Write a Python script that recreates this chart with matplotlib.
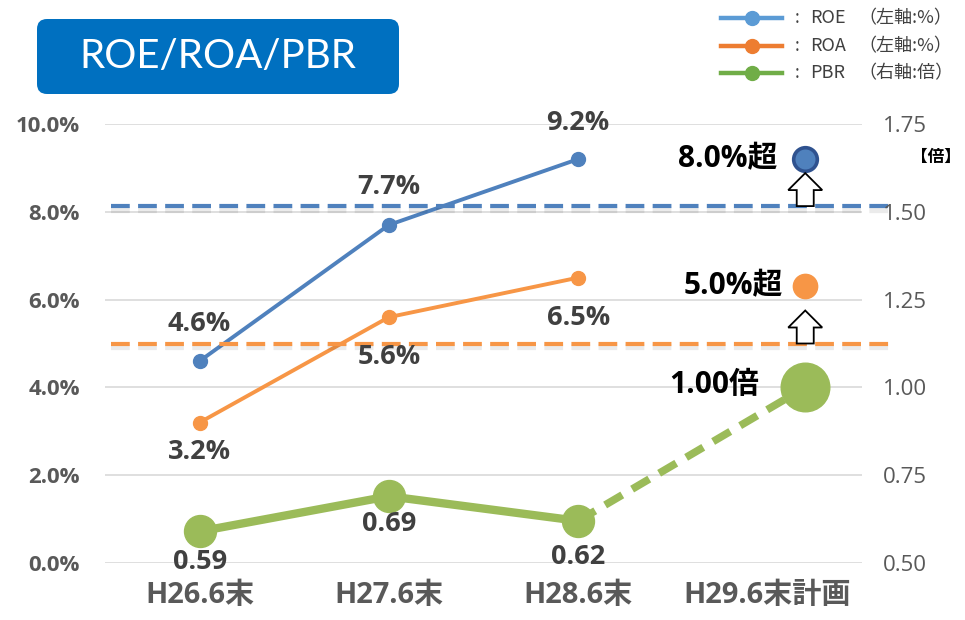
import numpy as np
import matplotlib
matplotlib.use("Agg")
import matplotlib.pyplot as plt
import matplotlib.transforms as mtransforms
import matplotlib.patheffects as pe
from matplotlib.patches import FancyBboxPatch, Polygon
from matplotlib.lines import Line2D

# ---------------- data ----------------
categories = ["H26.6末", "H27.6末", "H28.6末", "H29.6末計画"]
roe = [4.6, 7.7, 9.2]          # %
roa = [3.2, 5.6, 6.5]          # %
pbr = [0.59, 0.69, 0.62]       # 倍
pbr_plan = 1.00
roe_target = 8.13              # dashed target line (left axis)
roa_target = 5.0
roe_plan_marker = 9.2
roa_plan_marker = 6.3
plan_x = 3.2
roe_labels = ["4.6%", "7.7%", "9.2%"]
roa_labels = ["3.2%", "5.6%", "6.5%"]
pbr_labels = ["0.59", "0.69", "0.62"]
plan_labels = ["8.0%超", "5.0%超", "1.00倍"]
left_ticks = [0, 2, 4, 6, 8, 10]
right_ticks = [0.50, 0.75, 1.00, 1.25, 1.50, 1.75]
legend_names = ["ROE", "ROA", "PBR"]
legend_notes = ["（左軸:%）", "（左軸:%）", "（右軸:倍）"]

# ---------------- style ----------------
C_ROE = "#4F81BD"
C_ROA = "#F79646"
C_PBR = "#9BBB59"
C_LEG = ["#5B9BD5", "#ED7D31", "#70AD47"]
C_TXT = "#404040"
C_TICK = "#595959"
NUM = ["Open Sans", "Noto Sans CJK JP", "DejaVu Sans"]
CJK = ["Noto Sans CJK JP", "DejaVu Sans"]

W, H = 965, 620
fig = plt.figure(figsize=(W / 100, H / 100), dpi=100)
fig.patch.set_facecolor("white")

x0, x1, ytop, ybot = 105, 862, 124, 563
ax = fig.add_axes([x0 / W, 1 - ybot / H, (x1 - x0) / W, (ybot - ytop) / H])
ax2 = ax.twinx()

ax.set_xlim(-0.5, 3.5)
ax.set_ylim(0, 10)
ax2.set_ylim(0.5, 1.75)
for a in (ax, ax2):
    for s in a.spines.values():
        s.set_visible(False)
    a.tick_params(length=0)
ax2.patch.set_visible(False)

ax.set_yticks(left_ticks)
ax.set_yticklabels([f"{v:.1f}%" for v in left_ticks], fontfamily=NUM,
                   fontweight="bold", fontsize=16, color=C_TICK)
ax.tick_params(axis="y", pad=18)
ax2.set_yticks(right_ticks)
ax2.set_yticklabels([f"{v:.2f}" for v in right_ticks], fontfamily=NUM,
                    fontsize=16, color=C_TICK)
ax2.tick_params(axis="y", pad=15)
ax.set_xticks(range(len(categories)))
ax.set_xticklabels(categories, fontfamily=NUM, fontweight="bold",
                   fontsize=21, color=C_TICK)
ax.tick_params(axis="x", pad=13)
ax.grid(axis="y", color="#D9D9D9", linewidth=1.2, zorder=0)
ax.set_axisbelow(True)

xs = np.arange(len(roe))

# ROE / ROA lines
ax.plot(xs, roe, color=C_ROE, lw=2.8, marker="o", ms=10, zorder=3)
ax.plot(xs, roa, color=C_ROA, lw=2.8, marker="o", ms=10, zorder=3)

# target dashed lines with soft shadow
for val, col in ((roe_target, C_ROE), (roa_target, C_ROA)):
    ax.plot([-0.47, 3.66], [val, val], color=col, lw=3.0, dashes=(4.5, 2.0),
            clip_on=False, zorder=4,
            path_effects=[pe.SimpleLineShadow(offset=(0, -2.5), shadow_color="black",
                                              alpha=0.08, linewidth=4.5),
                          pe.Normal()])

# plan markers
ax.plot([plan_x], [roe_plan_marker], marker="o", ms=17, mfc=C_ROE, mec="#2F528F",
        mew=2.6, zorder=5, clip_on=False)
ax.plot([plan_x], [roa_plan_marker], marker="o", ms=17.5, mfc=C_ROA, mec=C_ROA,
        zorder=5, clip_on=False)

# up arrows (block arrows) from target lines
arrow_px = np.array([(-8.5, 0), (8.5, 0), (8.5, 16), (17, 16), (0, 33),
                     (-17, 16), (-8.5, 16)]) / 100.0
for val in (roe_target, roa_target):
    tr = fig.dpi_scale_trans + mtransforms.ScaledTranslation(plan_x, val, ax.transData)
    ax.add_patch(Polygon(arrow_px, closed=True, transform=tr, facecolor="white",
                         edgecolor="black", lw=1.3, zorder=6, clip_on=False))

# PBR line on right axis
ax2.plot(xs, pbr, color=C_PBR, lw=6, marker="o", ms=23, zorder=3,
         solid_capstyle="round")
ax2.plot([xs[-1], plan_x], [pbr[-1], pbr_plan], color=C_PBR, lw=5.5,
         dashes=(2.6, 1.5), zorder=2)
ax2.plot([plan_x], [pbr_plan], marker="o", ms=35, color=C_PBR, zorder=4,
         clip_on=False)

# data labels
lab_kw = dict(fontfamily=NUM, fontweight="bold", fontsize=19.5, color=C_TXT,
              ha="center", va="center", textcoords="offset points", zorder=7)
roe_off = [27, 27, 26]
roa_off = [-21, -29, -29]
pbr_off = [-22, -20, -26]
for i in range(len(roe)):
    ax.annotate(roe_labels[i], (xs[i], roe[i]), xytext=(0, roe_off[i]), **lab_kw)
    ax.annotate(roa_labels[i], (xs[i], roa[i]), xytext=(0, roa_off[i]), **lab_kw)
    ax2.annotate(pbr_labels[i], (xs[i], pbr[i]), xytext=(0, pbr_off[i]), **lab_kw)

plan_kw = dict(fontfamily=NUM, fontweight="bold", fontsize=21.5, color="black",
               ha="right", va="center", textcoords="offset points", zorder=7,
               annotation_clip=False)
ax.annotate(plan_labels[0], (plan_x, roe_plan_marker), xytext=(-20, 0), **plan_kw)
ax.annotate(plan_labels[1], (plan_x, roa_plan_marker), xytext=(-16, 0), **plan_kw)
ax2.annotate(plan_labels[2], (plan_x, pbr_plan), xytext=(-33, 2), **plan_kw)

# unit label
fig.text(936 / W, 1 - 157 / H, "【倍】", fontfamily=CJK, fontweight="bold",
         fontsize=12, color="black", ha="center", va="center")

# title box
fig.patches.append(FancyBboxPatch((0.37, (H - 94) / 100), 3.62, 0.75,
                                  boxstyle="round,pad=0,rounding_size=0.1",
                                  transform=fig.dpi_scale_trans, facecolor="#0070C0",
                                  edgecolor="none", figure=fig))
fig.text(218 / W, 1 - 57 / H, "ROE/ROA/PBR", fontfamily=["Lato", "DejaVu Sans"],
         fontsize=29, color="white", ha="center", va="center")

# legend (manual)
leg_y = [18, 46, 73]
for i in range(3):
    yy = 1 - leg_y[i] / H
    fig.add_artist(Line2D([721 / W, 782 / W], [yy, yy], color=C_LEG[i], lw=3.2,
                          transform=fig.transFigure))
    fig.add_artist(Line2D([752 / W], [yy], marker="o", ms=10, color=C_LEG[i],
                          transform=fig.transFigure))
    fig.text(797 / W, yy, ":", fontfamily=CJK, fontsize=12.5, color=C_TXT,
             ha="center", va="center")
    fig.text(810 / W, yy, legend_names[i], fontfamily=CJK, fontsize=13,
             color=C_TXT, ha="left", va="center")
    fig.text(858 / W, yy, legend_notes[i], fontfamily=CJK, fontsize=13,
             color=C_TXT, ha="left", va="center")

fig.savefig("out.png", dpi=100, facecolor="white")
